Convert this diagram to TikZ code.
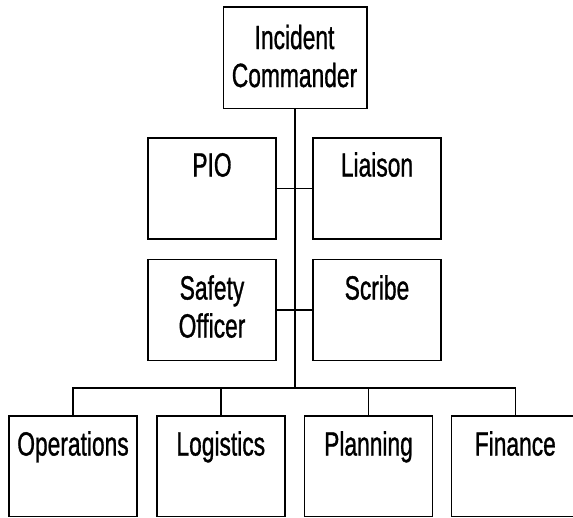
\documentclass[tikz,border=0pt]{standalone}
\usepackage{fontspec}
\setmainfont{Liberation Sans}
\newfontfamily\lblfont[FakeBold=1.2]{Liberation Sans}
\newcommand{\lbl}[1]{\scalebox{0.68}[1]{\lblfont\fontsize{33.5}{38}\selectfont #1}}
\begin{document}
\begin{tikzpicture}[x=1pt,y=-1pt,
  box/.style={draw=black, line width=1.6pt, rectangle, inner sep=0pt, minimum width=128.5pt, minimum height=101pt},
  bigbox/.style={box, minimum width=143.4pt, minimum height=101.6pt},
  lowbox/.style={box, minimum width=128pt, minimum height=100.5pt},
  txt/.style={inner sep=0pt, anchor=base},
  wire/.style={line width=1.6pt, black}]
\useasboundingbox (0,0) rectangle (573,517);
% boxes
\node[bigbox] (ic) at (295,57.5) {};
\node[box] (pio) at (212,188.5) {};
\node[box] (liaison) at (377,188.5) {};
\node[box] (safety) at (212,309.8) {};
\node[box] (scribe) at (377,309.8) {};
\node[lowbox] (ops) at (73,466.3) {};
\node[lowbox] (log) at (220.8,466.3) {};
\node[lowbox] (plan) at (368.5,466.3) {};
\node[lowbox] (fin) at (515.3,466.3) {};
% texts
\node[txt] (t1) at (294.5,49) {\lbl{Incident}};
\node[txt] (t2) at (294.5,87) {\lbl{Commander}};
\node[txt] (t3) at (212,176.5) {\lbl{PIO}};
\node[txt] (t4) at (377,176.5) {\lbl{Liaison}};
\node[txt] (t5) at (212,299.5) {\lbl{Safety}};
\node[txt] (t6) at (212,337.5) {\lbl{Officer}};
\node[txt] (t7) at (377,299.5) {\lbl{Scribe}};
\node[txt] (t8) at (73,455.5) {\lbl{Operations}};
\node[txt] (t9) at (220.8,455.5) {\lbl{Logistics}};
\node[txt] (t10) at (368.5,455.5) {\lbl{Planning}};
\node[txt] (t11) at (515.3,455.5) {\lbl{Finance}};
% connectors
\coordinate (bus) at (ic.south |- 0,388);
\draw[wire] (ic.south) -- (bus);
\draw[wire] (pio.east) -- (liaison.west);
\draw[wire] (safety.east) -- (scribe.west);
\draw[wire] (ops.north) |- (bus) -| (fin.north);
\draw[wire] (log.north) -- (log.north |- bus);
\draw[wire] (plan.north) -- (plan.north |- bus);
\end{tikzpicture}
\end{document}
